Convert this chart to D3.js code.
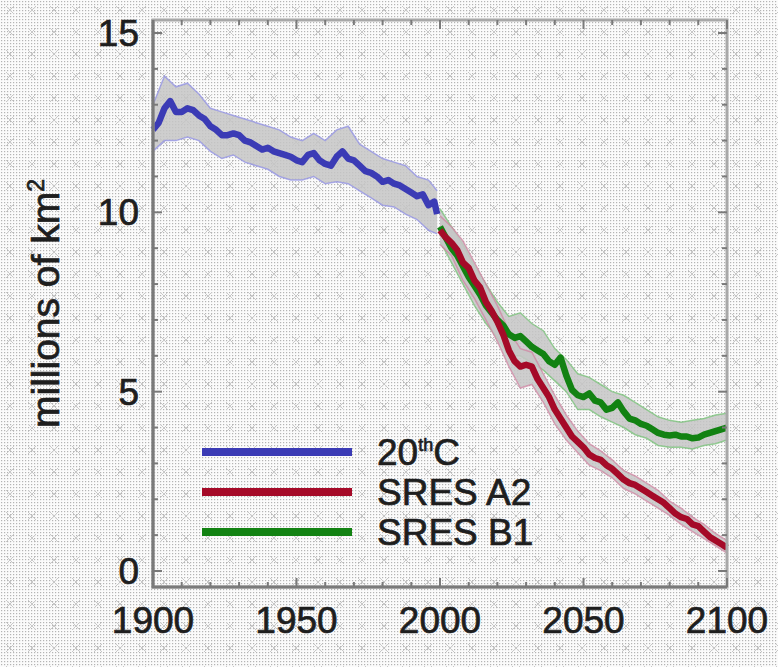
<!DOCTYPE html>
<html>
<head>
<meta charset="utf-8">
<script src="https://cdn.jsdelivr.net/npm/d3@7"></script>
<style>
  body { margin: 0; background: #fff; }
  svg text { font-family: "Liberation Sans", Arial, sans-serif; fill: #1e1e1e; stroke: #1e1e1e; stroke-width: 0.7px; }
</style>
</head>
<body>
<div id="chart"></div>
<script>
// Historical run (20th C), mean and ensemble envelope
const histYears = [1900, 1902, 1904, 1906, 1908, 1910, 1912, 1914, 1916, 1918, 1920, 1922, 1924, 1926, 1928,
  1930, 1932, 1934, 1936, 1938, 1940, 1942, 1944, 1946, 1948, 1950, 1952, 1954, 1956, 1958, 1960,
  1962, 1964, 1966, 1968, 1970, 1972, 1974, 1976, 1978, 1980, 1982, 1984, 1986, 1988, 1990, 1992,
  1994, 1996, 1998, 1999];
const histMean = [12.3, 12.5, 12.9, 13.1, 12.8, 12.8, 12.9, 12.85, 12.7, 12.6, 12.4, 12.3, 12.15, 12.15, 12.2,
  12.15, 12.0, 11.95, 11.85, 11.75, 11.8, 11.7, 11.65, 11.6, 11.55, 11.45, 11.4, 11.6, 11.65, 11.45, 11.35,
  11.3, 11.55, 11.7, 11.5, 11.45, 11.3, 11.15, 11.1, 11.0, 10.85, 10.9, 10.8, 10.75, 10.65, 10.55, 10.45,
  10.5, 10.2, 10.3, 9.95];

const histBandYears = [1900, 1904, 1908, 1912, 1916, 1920, 1924, 1928, 1932, 1936, 1940, 1944, 1948,
  1952, 1956, 1960, 1964, 1968, 1972, 1976, 1980, 1984, 1988, 1992, 1996, 1999];
const histHi = [13.0, 13.8, 13.5, 13.6, 13.3, 12.9, 12.8, 12.7, 12.6, 12.5, 12.4, 12.3, 12.1,
  12.0, 12.2, 12.0, 12.3, 12.4, 11.9, 11.7, 11.5, 11.4, 11.3, 11.0, 10.9, 10.6];
const histLo = [11.7, 12.0, 12.0, 12.1, 12.0, 11.7, 11.5, 11.6, 11.4, 11.3, 11.2, 11.0, 10.9,
  10.9, 11.0, 10.8, 10.85, 10.8, 10.6, 10.4, 10.2, 10.15, 9.95, 9.8, 9.5, 9.4];

// Scenario runs (2000-2100)
const scenYears = [2000, 2002, 2004, 2006, 2008, 2010, 2012, 2014, 2016, 2018, 2020, 2022, 2024, 2026, 2028,
  2030, 2032, 2034, 2036, 2038, 2040, 2042, 2044, 2046, 2048, 2050, 2052, 2054, 2056, 2058, 2060,
  2062, 2064, 2066, 2068, 2070, 2072, 2074, 2076, 2078, 2080, 2082, 2084, 2086, 2088, 2090, 2092,
  2094, 2096, 2098, 2100];
const a2Mean = [9.5, 9.3, 9.15, 8.95, 8.6, 8.45, 8.1, 7.9, 7.5, 7.25, 6.95, 6.6, 6.15, 5.85, 5.7,
  5.75, 5.7, 5.35, 5.1, 4.85, 4.5, 4.25, 4.0, 3.75, 3.6, 3.45, 3.25, 3.15, 3.1, 2.95, 2.85,
  2.7, 2.55, 2.45, 2.4, 2.3, 2.2, 2.1, 2.0, 1.9, 1.75, 1.6, 1.5, 1.45, 1.3, 1.25, 1.1,
  0.95, 0.85, 0.75, 0.65];
const b1Mean = [9.6, 9.3, 9.0, 8.8, 8.5, 8.2, 7.95, 7.7, 7.4, 7.2, 7.0, 6.85, 6.6, 6.5, 6.55,
  6.4, 6.25, 6.15, 6.05, 5.85, 5.75, 5.95, 5.45, 5.05, 4.9, 4.85, 4.95, 4.75, 4.7, 4.5, 4.55,
  4.7, 4.45, 4.25, 4.2, 4.1, 4.05, 3.95, 3.85, 3.8, 3.78, 3.8, 3.75, 3.75, 3.7, 3.72, 3.8,
  3.85, 3.9, 3.95, 4.0];

const scenBandYears = [2000, 2004, 2008, 2012, 2016, 2020, 2024, 2028, 2032, 2036, 2040, 2044, 2048,
  2052, 2056, 2060, 2064, 2068, 2072, 2076, 2080, 2084, 2088, 2092, 2096, 2100];
const a2Hi = [9.9, 9.6, 9.2, 8.6, 8.0, 7.4, 6.7, 6.2, 6.1, 5.5, 4.9, 4.35, 3.9,
  3.55, 3.35, 3.1, 2.8, 2.65, 2.45, 2.25, 1.95, 1.75, 1.5, 1.3, 1.05, 0.85];
const a2Lo = [9.1, 8.8, 8.1, 7.6, 7.0, 6.4, 5.7, 5.1, 5.2, 4.7, 4.1, 3.65, 3.3,
  2.95, 2.8, 2.6, 2.3, 2.15, 1.95, 1.75, 1.55, 1.3, 1.1, 0.9, 0.7, 0.5];
const b1Hi = [10.1, 9.6, 9.1, 8.5, 8.0, 7.5, 7.1, 7.2, 6.9, 6.7, 6.2, 5.9, 5.5,
  5.4, 5.2, 5.0, 4.9, 4.7, 4.5, 4.3, 4.2, 4.15, 4.2, 4.25, 4.35, 4.4];
const b1Lo = [9.2, 8.6, 8.0, 7.4, 6.9, 6.5, 6.0, 6.0, 5.8, 5.6, 5.3, 5.0, 4.5,
  4.5, 4.3, 4.15, 4.0, 3.8, 3.7, 3.5, 3.45, 3.45, 3.4, 3.5, 3.55, 3.65];

const xTicks = [1900, 1950, 2000, 2050, 2100];
const yTicks = [0, 5, 10, 15];

const width = 778, height = 667;
const margin = { top: 20, right: 51, bottom: 80, left: 153 };

const svg = d3.select('#chart').append('svg')
  .attr('width', width)
  .attr('height', height);

// dithered-looking background
let defs = svg.append('defs');
let dots = defs.append('pattern').attr('id', 'dots')
  .attr('width', 3).attr('height', 3).attr('patternUnits', 'userSpaceOnUse');
dots.append('rect').attr('width', 3).attr('height', 3).attr('fill', '#fbfbfb');
dots.append('rect').attr('x', 1).attr('y', 1).attr('width', 1.2).attr('height', 1.2).attr('fill', '#b4b4b4');
let crosses = defs.append('pattern').attr('id', 'crosses')
  .attr('width', 22).attr('height', 22).attr('patternUnits', 'userSpaceOnUse');
crosses.append('path').attr('d', 'M6,6L14,14M14,6L6,14')
  .attr('stroke', '#c8c8c8').attr('stroke-width', 1);

svg.append('rect').attr('width', width).attr('height', height).attr('fill', 'url(#dots)');
svg.append('rect').attr('width', width).attr('height', height).attr('fill', 'url(#crosses)');

let x = d3.scaleLinear().domain([1900, 2100]).range([margin.left, width - margin.right]);
let y = d3.scaleLinear().domain([0, 15]).range([571, 33]);
let plotTop = margin.top, plotBottom = height - margin.bottom;

// ensemble envelopes, returns a function that draws the mean line on top
function drawSeries(years, mean, bandYears, hi, lo, color, edge) {
  let band = bandYears.map((yr, i) => ({ yr: yr, hi: hi[i], lo: lo[i] }));
  svg.append('path')
    .datum(band)
    .attr('fill', '#c6c6c6')
    .attr('opacity', 0.85)
    .attr('d', d3.area().x(d => x(d.yr)).y0(d => y(d.lo)).y1(d => y(d.hi)));

  [hi, lo].forEach(function(arr) {
    svg.append('path')
      .datum(bandYears.map((yr, i) => [yr, arr[i]]))
      .attr('fill', 'none')
      .attr('stroke', edge)
      .attr('stroke-width', 1.5)
      .attr('opacity', 0.7)
      .attr('d', d3.line().x(d => x(d[0])).y(d => y(d[1])));
  });
  return function() {
    svg.append('path')
      .datum(years.map((yr, i) => [yr, mean[i]]))
      .attr('fill', 'none')
      .attr('stroke', color)
      .attr('stroke-width', 6.5)
      .attr('stroke-linejoin', 'round')
      .attr('d', d3.line().x(d => x(d[0])).y(d => y(d[1])));
  };
}

let blue = '#3b3bb5', red = '#a50a28', green = '#128212';
let drawHist = drawSeries(histYears, histMean, histBandYears, histHi, histLo, blue, '#8c8ce6');
let drawB1 = drawSeries(scenYears, b1Mean, scenBandYears, b1Hi, b1Lo, green, '#70c070');
let drawA2 = drawSeries(scenYears, a2Mean, scenBandYears, a2Hi, a2Lo, red, '#d080a0');
drawHist();
drawB1();
drawA2();

// frame
svg.append('rect')
  .attr('x', margin.left).attr('y', plotTop)
  .attr('width', width - margin.right - margin.left)
  .attr('height', plotBottom - plotTop)
  .attr('fill', 'none')
  .attr('stroke', '#a8a8a8')
  .attr('stroke-width', 3);
svg.append('path')
  .attr('d', 'M' + margin.left + ',' + plotTop + 'V' + plotBottom + 'H' + (width - margin.right))
  .attr('fill', 'none')
  .attr('stroke', '#7a7a7a')
  .attr('stroke-width', 3);

// minor and major ticks, IDL style (inward, on all sides)
let xMinor = d3.range(1900, 2101, 10);
let tickG = svg.append('g').attr('stroke', '#7a7a7a').attr('stroke-width', 2);
xMinor.forEach(function(yr) {
  let len = yr % 50 === 0 ? 9 : 5;
  tickG.append('line').attr('x1', x(yr)).attr('x2', x(yr)).attr('y1', plotBottom).attr('y2', plotBottom - len);
  tickG.append('line').attr('x1', x(yr)).attr('x2', x(yr)).attr('y1', plotTop).attr('y2', plotTop + len);
});
d3.range(0, 16, 1).forEach(function(v) {
  let len = v % 5 === 0 ? 9 : 5;
  tickG.append('line').attr('x1', margin.left).attr('x2', margin.left + len).attr('y1', y(v)).attr('y2', y(v));
  tickG.append('line').attr('x1', width - margin.right).attr('x2', width - margin.right - len).attr('y1', y(v)).attr('y2', y(v));
});

// tick labels
svg.append('g').selectAll('text').data(xTicks).enter().append('text')
  .attr('x', d => x(d))
  .attr('y', 633)
  .attr('text-anchor', 'middle')
  .style('font-size', '37px')
  .text(d => d);
svg.append('g').selectAll('text').data(yTicks).enter().append('text')
  .attr('x', 139)
  .attr('y', d => y(d) + 13)
  .attr('text-anchor', 'end')
  .style('font-size', '37px')
  .text(d => d);

// y axis title
let yTitle = svg.append('text')
  .attr('transform', 'translate(59,' + ((plotTop + plotBottom) / 2) + ') rotate(-90)')
  .attr('text-anchor', 'middle')
  .style('font-size', '39px');
yTitle.append('tspan').text('millions of km');
yTitle.append('tspan').attr('dy', -15).style('font-size', '23px').text('2');

// legend
let legendItems = [
  { label: '20', sup: 'th', after: 'C', color: blue },
  { label: 'SRES A2', color: red },
  { label: 'SRES B1', color: green }
];
legendItems.forEach(function(item, i) {
  let ly = 452 + i * 40;
  svg.append('line')
    .attr('x1', 202).attr('x2', 352)
    .attr('y1', ly).attr('y2', ly)
    .attr('stroke', item.color)
    .attr('stroke-width', 8);
  let t = svg.append('text')
    .attr('x', 377)
    .attr('y', ly + 13)
    .style('font-size', '37px');
  t.append('tspan').text(item.label);
  if (item.sup) {
    t.append('tspan').attr('dy', -14).style('font-size', '18px').text(item.sup);
    t.append('tspan').attr('dy', 14).text(item.after);
  }
});
</script>
</body>
</html>
